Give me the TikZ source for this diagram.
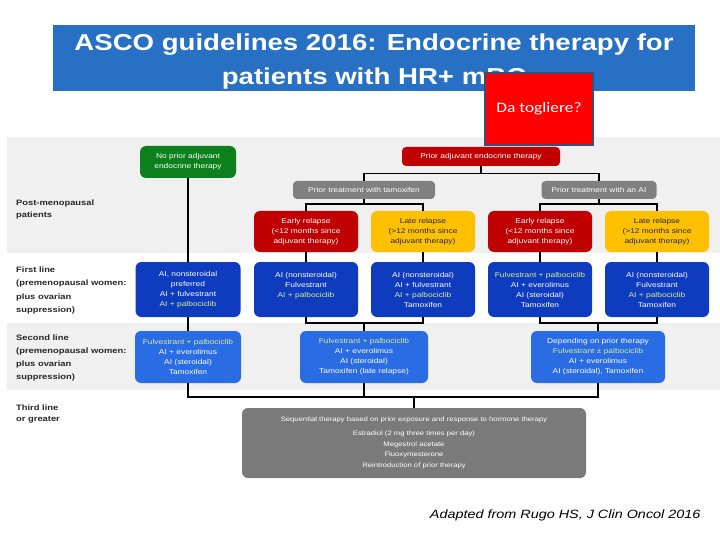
\documentclass[tikz,border=0pt]{standalone}
\usepackage{fontspec}
\setmainfont{Liberation Sans}[FakeStretch=1.2]
\newfontfamily\notefont{Carlito}[FakeStretch=1.2]
\usepackage{xcolor}
\usetikzlibrary{calc}

\definecolor{titleblue}{RGB}{40,112,196}
\definecolor{noteslate}{RGB}{62,76,112}
\definecolor{bandgray}{RGB}{240,240,240}
\definecolor{nogreen}{RGB}{12,128,28}
\definecolor{adjred}{RGB}{192,0,0}
\definecolor{lateyellow}{RGB}{255,192,0}
\definecolor{priorgray}{RGB}{128,128,128}
\definecolor{firstblue}{RGB}{15,60,190}
\definecolor{secondblue}{RGB}{42,108,228}
\definecolor{lastgray}{RGB}{122,122,122}
\definecolor{hlgreen}{RGB}{215,240,140}

\newcommand\boxfont{\fontsize{7}{10}\selectfont}
\newcommand\hl[1]{\textcolor{hlgreen}{#1}}

\tikzset{
    box/.style={rounded corners=6pt, inner sep=0pt, align=center, text=white, font=\boxfont},
    small/.style={box, rounded corners=4pt, minimum height=18},
    early/.style={box, fill=adjred, minimum width=104, minimum height=41},
    late/.style={box, fill=lateyellow, text={black!85}, minimum width=104, minimum height=41},
    first/.style={box, fill=firstblue, minimum width=104, minimum height=55},
    second/.style={box, fill=secondblue, minimum height=52},
    rowlabel/.style={anchor=west, align=left, inner sep=0pt, text={black!85}, font=\bfseries\fontsize{7.8}{13.3}\selectfont},
    link/.style={line width=1.5pt}
}

\begin{document}
\begin{tikzpicture}[x=1pt, y=-1pt]

    \useasboundingbox (0,0) rectangle (720,540);

    % grey bands behind the rows
    \fill[bandgray] (7,137) rectangle (720,253);
    \fill[bandgray] (7,323) rectangle (720,390);

    \node[fill=titleblue, minimum width=642, minimum height=66, inner sep=0pt] (title) at (374,58) {};
    \node[align=center, inner sep=0pt, text=white, font=\bfseries\fontsize{23}{34}\selectfont] (titletext) at (374,62)
        {ASCO guidelines 2016: Endocrine therapy for\\patients with HR+ mBC};

    % row labels
    \node[rowlabel, font=\bfseries\fontsize{7.8}{12}\selectfont] (postlabel) at (16,209.5) {Post-menopausal\\patients};
    \node[rowlabel] (firstlabel) at (16,290.5) {First line\\(premenopausal women:\\plus ovarian\\suppression)};
    \node[rowlabel] (secondlabel) at (16,358) {Second line\\(premenopausal women:\\plus ovarian\\suppression)};
    \node[rowlabel, font=\bfseries\fontsize{7.8}{11.5}\selectfont] (thirdlabel) at (16,414) {Third line\\or greater};

    % top of the tree
    \node[box, fill=nogreen, minimum width=96, minimum height=32] (noprior) at (188,162) {No prior adjuvant\\endocrine therapy};
    \node[small, fill=adjred, minimum width=158, minimum height=19] (prior) at (481,156.5) {Prior adjuvant endocrine therapy};
    \node[small, fill=priorgray, minimum width=142] (tam) at (364,190) {Prior treatment with tamoxifen};
    \node[small, fill=priorgray, minimum width=115] (ai) at (599,190) {Prior treatment with an AI};

    \foreach \n/\x/\kind/\what/\sign in {1/306/early/Early/<, 2/423/late/Late/>, 3/540/early/Early/<, 4/657/late/Late/>}{
        \node[\kind] (R\n) at (\x,231.5) {\what{} relapse\\(\sign12 months since\\adjuvant therapy)};
    }

    % first line
    \node[first, minimum width=105] (F0) at (188,289.5) {AI, nonsteroidal\\preferred\\AI + fulvestrant\\\hl{AI + palbociclib}};
    \node[first] (F1) at (306,289.5) {AI (nonsteroidal)\\Fulvestrant\\\hl{AI + palbociclib}\\\mbox{}};
    \node[first] (F2) at (423,289.5) {AI (nonsteroidal)\\AI + fulvestrant\\\hl{AI + palbociclib}\\Tamoxifen};
    \node[first] (F3) at (540,289.5) {\hl{Fulvestrant + palbociclib}\\AI + everolimus\\AI (steroidal)\\Tamoxifen};
    \node[first] (F4) at (657,289.5) {AI (nonsteroidal)\\Fulvestrant\\\hl{AI + palbociclib}\\Tamoxifen};

    % second line
    \node[second, minimum width=106] (S1) at (188,357) {\hl{Fulvestrant + palbociclib}\\AI + everolimus\\AI (steroidal)\\Tamoxifen};
    \node[second, minimum width=128] (S2) at (364,357) {\hl{Fulvestrant + palbociclib}\\AI + everolimus\\AI (steroidal)\\Tamoxifen (late relapse)};
    \node[second, minimum width=134] (S3) at (598,357) {Depending on prior therapy\\\hl{Fulvestrant ± palbociclib}\\AI + everolimus\\AI (steroidal), Tamoxifen};

    % third line or greater
    \node[box, fill=lastgray, minimum width=344, minimum height=70, font=\fontsize{6.4}{10.8}\selectfont] (T) at (414,443)
        {Sequential therapy based on prior exposure and response to hormone therapy\\[3pt]Estradiol (2 mg three times per day)\\Megestrol acetate\\Fluoxymesterone\\Reintroduction of prior therapy};

    \coordinate (jA) at (481,173.5);
    \coordinate (jT) at (364,204);
    \coordinate (jI) at (599,204);
    \coordinate (jE) at (364,323);
    \coordinate (jL) at (598,323);
    \coordinate (jB) at (414,397);

    \draw[link] (noprior) -- (F0);
    \draw[link] (F0) -- (S1);
    \draw[link] (prior) -- (jA);
    \draw[link] (tam.north) |- (jA) -| (ai.north);
    \draw[link] (tam) -- (jT);
    \draw[link] (R1.north) |- (jT) -| (R2.north);
    \draw[link] (ai) -- (jI);
    \draw[link] (R3.north) |- (jI) -| (R4.north);
    \foreach \n in {1,...,4}{
        \draw[link] (R\n) -- (F\n);
    }
    \draw[link] (F1.south) |- (jE) -| (F2.south);
    \draw[link] (jE) -- (S2);
    \draw[link] (F3.south) |- (jL) -| (F4.south);
    \draw[link] (jL) -- (S3);
    \draw[link] (S1.south) |- (jB) -| (S3.south);
    \draw[link] (S2.south) -- (S2.south |- jB);
    \draw[link] (jB) -- (T);

    \node[anchor=east, font=\itshape\fontsize{12}{14}\selectfont] (source) at (704,515) {Adapted from Rugo HS, J Clin Oncol 2016};

    % sticky note over the title
    \node[draw=noteslate, line width=2pt, fill=red, minimum width=108, minimum height=72, inner sep=0pt,
        text=white, font=\notefont\fontsize{14.5}{16}\selectfont] (note) at (539,109) {Da togliere?};

\end{tikzpicture}
\end{document}
